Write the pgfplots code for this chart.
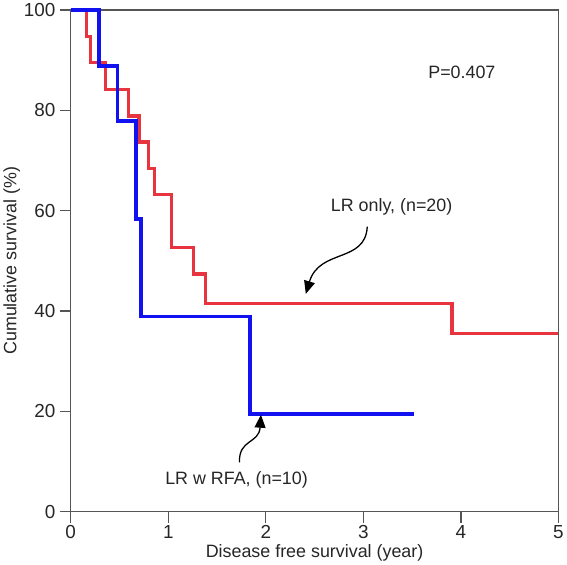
\documentclass[border=0pt]{standalone}
\usepackage{pgfplots}
\pgfplotsset{compat=1.18}
\usepackage{fontspec}
\setmainfont{Liberation Sans}
\usetikzlibrary{arrows.meta}
\definecolor{kmred}{RGB}{232,52,62}
\definecolor{kmblue}{RGB}{18,18,240}
\definecolor{axgray}{RGB}{85,85,85}
\begin{document}
\begin{tikzpicture}
\begin{axis}[
  scale only axis,
  width=491pt, height=505pt,
  xmin=0, xmax=5, ymin=0, ymax=100,
  xtick={0,1,2,3,4,5},
  ytick={0,20,40,60,80,100},
  tick align=outside,
  tick pos=left,
  major tick length=11pt,
  axis line style={axgray, line width=1.3pt},
  every tick/.style={axgray, line width=1.3pt},
  /pgf/number format/assume math mode=true,
  ticklabel style={font=\fontsize{19}{21}\selectfont, text=black!85},
  label style={font=\fontsize{18}{20}\selectfont, text=black!85},
  xlabel={Disease free survival (year)},
  ylabel={Cumulative survival (\%)},
  xticklabel style={yshift=1pt},
  yticklabel style={xshift=-1pt},
  xlabel style={yshift=1pt},
  ylabel style={yshift=-3pt},
  clip=false,
]
\addplot[const plot, kmred, line width=3.4pt] coordinates {
  (0,100) (0.16,94.7) (0.20,89.5) (0.355,84.2) (0.59,78.9) (0.70,73.7)
  (0.80,68.4) (0.86,63.2) (1.03,52.6) (1.26,47.4) (1.38,41.5) (3.91,35.5) (5,35.5)
};
\addplot[const plot, kmblue, line width=3.8pt] coordinates {
  (0,100) (0.29,88.9) (0.48,77.8) (0.67,58.3) (0.72,38.9) (1.84,19.4) (3.52,19.4)
};
\node[font=\fontsize{18}{20}\selectfont, text=black!85] at (axis cs:4.01,87.5) {P=0.407};
\node[font=\fontsize{18}{20}\selectfont, text=black!85] at (axis cs:3.29,60.8) {LR only, (n=20)};
\node[font=\fontsize{18}{20}\selectfont, text=black!85] at (axis cs:1.70,6.4) {LR w RFA, (n=10)};
\draw[black, line width=1.3pt, -{Triangle[length=13pt,width=11pt]}]
  (axis cs:3.04,56.8) .. controls (axis cs:3.02,49.5) and (axis cs:2.55,52.5) .. (axis cs:2.41,43.4);
\draw[black, line width=1.3pt, -{Triangle[length=13pt,width=11pt]}]
  (axis cs:1.73,9.8) .. controls (axis cs:1.72,14.5) and (axis cs:1.93,13.5) .. (axis cs:1.95,19.3);
\end{axis}
\end{tikzpicture}
\end{document}
